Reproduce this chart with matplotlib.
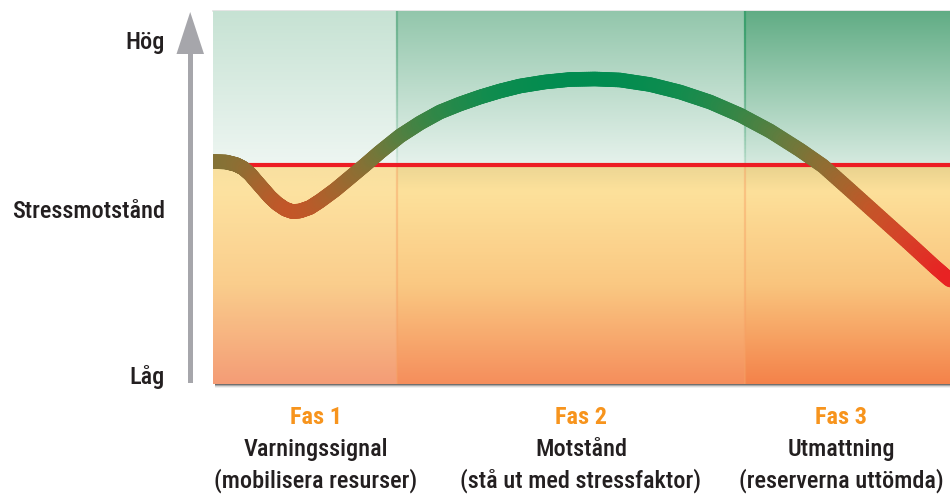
import numpy as np
import matplotlib
matplotlib.use("Agg")
import matplotlib.pyplot as plt
from matplotlib.collections import LineCollection
from matplotlib.colors import LinearSegmentedColormap, Normalize
from matplotlib.patches import Polygon, Rectangle
from matplotlib import font_manager

# ---------------- data ----------------
phase_titles = ["Fas 1", "Fas 2", "Fas 3"]
phase_names = ["Varningssignal", "Motstånd", "Utmattning"]
phase_descs = ["(mobilisera resurser)", "(stå ut med stressfaktor)", "(reserverna uttömda)"]
phase_edges = [0, 25, 72.2, 100]          # phase boundaries on the time axis
baseline_level = 58.7                      # normal stress resistance (red line)
y_labels = ["Hög", "Stressmotstånd", "Låg"]

curve_x = [0.0, 1.76, 3.12, 4.07, 5.02, 5.83, 6.78, 7.73, 8.68, 9.77, 10.72, 11.80, 13.16,
           14.52, 16.55, 18.59, 20.62, 22.66, 25.37, 28.09, 30.80, 33.51, 36.23, 38.94,
           41.66, 45.05, 48.44, 51.83, 55.22, 59.29, 63.36, 67.44, 71.51, 75.58, 79.65,
           82.77, 86.43, 90.50, 94.57, 97.96, 100.0]
curve_y = [59.65, 59.52, 58.85, 57.91, 56.30, 54.42, 52.28, 50.13, 48.39, 46.92, 46.25, 46.38,
           47.32, 49.06, 52.01, 55.36, 58.71, 62.20, 66.49, 69.97, 72.92, 75.07, 76.94, 78.55,
           79.89, 80.97, 81.64, 81.77, 81.50, 80.29, 78.28, 75.60, 72.12, 67.83, 62.73,
           58.45, 52.01, 44.77, 37.53, 31.37, 27.88]

# ---------------- fonts ----------------
avail = {f.name for f in font_manager.fontManager.ttflist}
fam = [f for f in ["Liberation Sans Narrow", "Roboto Condensed", "Roboto", "Liberation Sans", "DejaVu Sans"] if f in avail]
plt.rcParams["font.family"] = fam

W, H = 950, 495
fig = plt.figure(figsize=(W / 100, H / 100), dpi=100)
fig.patch.set_facecolor("white")

# overlay axes in pixel coordinates for decorations
deco = fig.add_axes([0, 0, 1, 1])
deco.set_xlim(0, W)
deco.set_ylim(H, 0)
deco.axis("off")

ax_l, ax_r, ax_t, ax_b = 213, 950, 11, 384
ax = fig.add_axes([ax_l / W, 1 - ax_b / H, (ax_r - ax_l) / W, (ax_b - ax_t) / H])
ax.set_xlim(0, 100)
ax.set_ylim(0, 100)
ax.axis("off")


def c(r, g, b):
    return np.array([r, g, b]) / 255.0


def vgrad(stops, n=300):
    pos = np.array([s[0] for s in stops])
    cols = np.array([s[1] for s in stops])
    t = np.linspace(0, 1, n)
    img = np.stack([np.interp(t, pos, cols[:, k]) for k in range(3)], axis=1)
    return img[:, None, :]


upper_stops = [
    [(0, c(198, 226, 211)), (1, c(238, 246, 242))],
    [(0, c(146, 198, 171)), (1, c(230, 242, 236))],
    [(0, c(96, 172, 132)), (1, c(214, 234, 224))],
]
lower_stops = [
    [(0, c(248, 224, 160)), (0.12, c(253, 226, 160)), (0.55, c(250, 205, 140)), (1, c(244, 156, 118))],
    [(0, c(236, 214, 148)), (0.12, c(253, 225, 155)), (0.55, c(250, 200, 130)), (1, c(245, 142, 92))],
    [(0, c(232, 210, 142)), (0.12, c(253, 224, 154)), (0.55, c(249, 196, 125)), (1, c(244, 130, 74))],
]

for i in range(3):
    x0, x1 = phase_edges[i], phase_edges[i + 1]
    ax.imshow(vgrad(upper_stops[i]), extent=[x0, x1, baseline_level, 100], aspect="auto",
              interpolation="bilinear", zorder=1)
    ax.imshow(vgrad(lower_stops[i]), extent=[x0, x1, 0, baseline_level], aspect="auto",
              interpolation="bilinear", zorder=1)

# phase separators
for i, xe in enumerate(phase_edges[1:-1]):
    col_up = c(110, 180, 145) if i == 0 else c(60, 160, 110)
    segs = np.linspace(100, baseline_level, 40)
    for k in range(len(segs) - 1):
        a = 0.9 * (1 - k / len(segs)) + 0.15
        ax.plot([xe, xe], [segs[k], segs[k + 1]], color=col_up, lw=1.6, alpha=min(a, 1),
                solid_capstyle="butt", zorder=2)
    ax.plot([xe, xe], [0, baseline_level], color=c(246, 160, 100), lw=1.6, alpha=0.45,
            solid_capstyle="butt", zorder=2)

# red baseline
ax.axhline(baseline_level, color="#ED1C24", lw=3.0, zorder=3)

# gradient curve
cmap = LinearSegmentedColormap.from_list("stress", [
    (0.0, c(232, 34, 35)),
    ((38 - 28) / 54, c(214, 66, 40)),
    ((46 - 28) / 54, c(196, 86, 40)),
    ((52 - 28) / 54, c(168, 100, 45)),
    ((58.7 - 28) / 54, c(138, 112, 52)),
    ((65 - 28) / 54, c(100, 124, 62)),
    ((72 - 28) / 54, c(55, 134, 70)),
    ((78 - 28) / 54, c(18, 140, 78)),
    (1.0, c(0, 140, 80)),
])
norm = Normalize(28, 82)
px = np.asarray(curve_x)
py = np.asarray(curve_y)
sub = 12
xs, ys = [px[0]], [py[0]]
for i in range(len(px) - 1):
    t = np.linspace(0, 1, sub + 1)[1:]
    xs.extend(px[i] + (px[i + 1] - px[i]) * t)
    ys.extend(py[i] + (py[i + 1] - py[i]) * t)
xs, ys = np.array(xs), np.array(ys)
pts = np.column_stack([xs, ys]).reshape(-1, 1, 2)
segments = np.concatenate([pts[:-1], pts[1:]], axis=1)
lc = LineCollection(segments, cmap=cmap, norm=norm, linewidths=10.5, capstyle="round",
                    joinstyle="round", zorder=4)
lc.set_array((ys[:-1] + ys[1:]) / 2)
ax.add_collection(lc)

# bottom shadow of the panel
for k, a in enumerate([0.75, 0.45, 0.2, 0.08]):
    deco.add_patch(Rectangle((ax_l + 2, ax_b + k * 1.0), ax_r - ax_l, 1.0,
                             color=(0.25, 0.25, 0.25), alpha=a, lw=0, zorder=0))
deco.plot([ax_l, ax_r], [ax_t - 0.5, ax_t - 0.5], color=(0.88, 0.88, 0.88), lw=1.2, zorder=0)

# vertical arrow
arrow_col = (0.65, 0.65, 0.67)
deco.add_patch(Rectangle((188, 52), 4.5, 383 - 52, color=arrow_col, lw=0))
deco.add_patch(Polygon([[176.5, 54], [204, 54], [190.2, 12]], closed=True, color=arrow_col, lw=0))

# y labels
txt_col = "#231F20"
fs = 17.5
wt = "medium"
deco.text(165, 49, y_labels[0], ha="right", va="baseline", fontsize=fs, color=txt_col, fontweight=wt)
deco.text(165, 218, y_labels[1], ha="right", va="baseline", fontsize=fs, color=txt_col, fontweight=wt)
deco.text(165, 384, y_labels[2], ha="right", va="baseline", fontsize=fs, color=txt_col, fontweight=wt)

# phase labels
centers = [316, 581, 841]
for cx, t1, t2, t3 in zip(centers, phase_titles, phase_names, phase_descs):
    deco.text(cx, 424, t1, ha="center", va="baseline", fontsize=fs, color="#F7941D", fontweight="bold")
    deco.text(cx, 456, t2, ha="center", va="baseline", fontsize=fs, color=txt_col, fontweight=wt)
    deco.text(cx, 488, t3, ha="center", va="baseline", fontsize=fs, color=txt_col, fontweight=wt)

fig.savefig("out.png", dpi=100)
